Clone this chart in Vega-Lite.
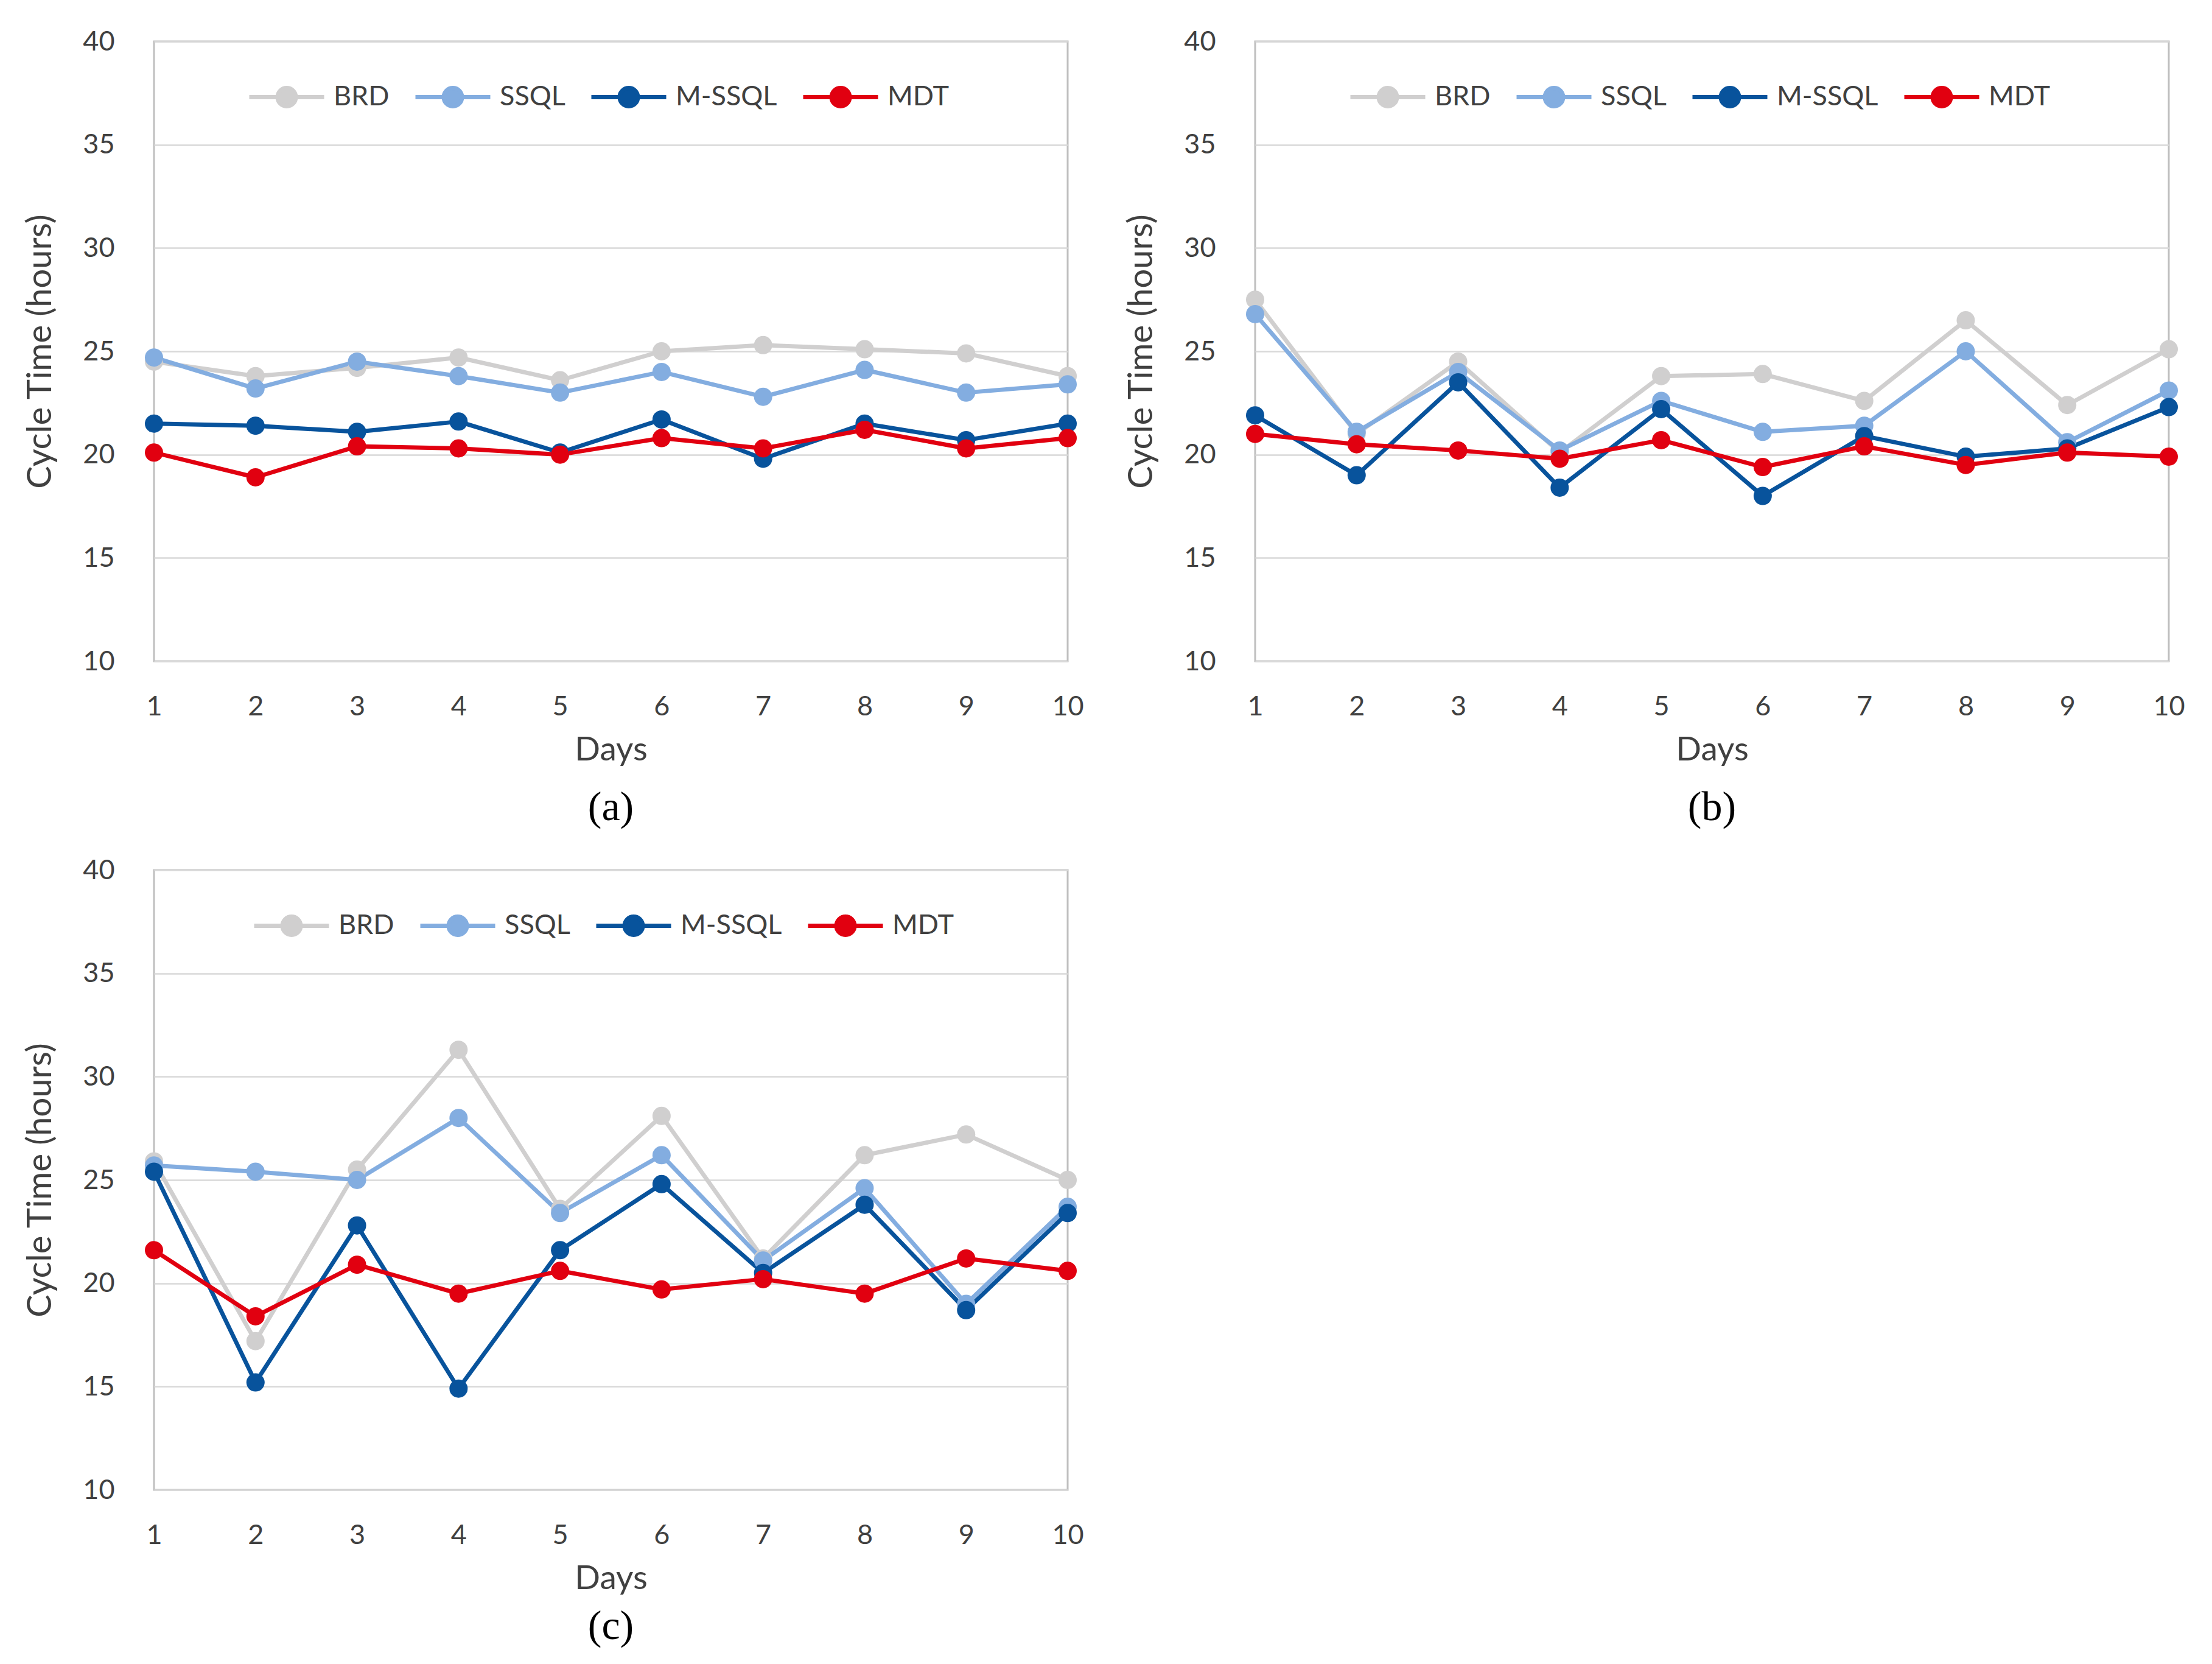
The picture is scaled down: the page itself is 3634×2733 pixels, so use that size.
{
  "$schema": "https://vega.github.io/schema/vega-lite/v6.json",
  "background": "white",
  "padding": {"left": 37, "top": 44, "right": 0, "bottom": 0},
  "datasets": {
    "cycle": [
      {"panel": "a", "method": "BRD", "day": 1, "hours": 24.5},
      {"panel": "a", "method": "BRD", "day": 2, "hours": 23.8},
      {"panel": "a", "method": "BRD", "day": 3, "hours": 24.2},
      {"panel": "a", "method": "BRD", "day": 4, "hours": 24.7},
      {"panel": "a", "method": "BRD", "day": 5, "hours": 23.6},
      {"panel": "a", "method": "BRD", "day": 6, "hours": 25.0},
      {"panel": "a", "method": "BRD", "day": 7, "hours": 25.3},
      {"panel": "a", "method": "BRD", "day": 8, "hours": 25.1},
      {"panel": "a", "method": "BRD", "day": 9, "hours": 24.9},
      {"panel": "a", "method": "BRD", "day": 10, "hours": 23.8},
      {"panel": "a", "method": "SSQL", "day": 1, "hours": 24.7},
      {"panel": "a", "method": "SSQL", "day": 2, "hours": 23.2},
      {"panel": "a", "method": "SSQL", "day": 3, "hours": 24.5},
      {"panel": "a", "method": "SSQL", "day": 4, "hours": 23.8},
      {"panel": "a", "method": "SSQL", "day": 5, "hours": 23.0},
      {"panel": "a", "method": "SSQL", "day": 6, "hours": 24.0},
      {"panel": "a", "method": "SSQL", "day": 7, "hours": 22.8},
      {"panel": "a", "method": "SSQL", "day": 8, "hours": 24.1},
      {"panel": "a", "method": "SSQL", "day": 9, "hours": 23.0},
      {"panel": "a", "method": "SSQL", "day": 10, "hours": 23.4},
      {"panel": "a", "method": "M-SSQL", "day": 1, "hours": 21.5},
      {"panel": "a", "method": "M-SSQL", "day": 2, "hours": 21.4},
      {"panel": "a", "method": "M-SSQL", "day": 3, "hours": 21.1},
      {"panel": "a", "method": "M-SSQL", "day": 4, "hours": 21.6},
      {"panel": "a", "method": "M-SSQL", "day": 5, "hours": 20.1},
      {"panel": "a", "method": "M-SSQL", "day": 6, "hours": 21.7},
      {"panel": "a", "method": "M-SSQL", "day": 7, "hours": 19.8},
      {"panel": "a", "method": "M-SSQL", "day": 8, "hours": 21.5},
      {"panel": "a", "method": "M-SSQL", "day": 9, "hours": 20.7},
      {"panel": "a", "method": "M-SSQL", "day": 10, "hours": 21.5},
      {"panel": "a", "method": "MDT", "day": 1, "hours": 20.1},
      {"panel": "a", "method": "MDT", "day": 2, "hours": 18.9},
      {"panel": "a", "method": "MDT", "day": 3, "hours": 20.4},
      {"panel": "a", "method": "MDT", "day": 4, "hours": 20.3},
      {"panel": "a", "method": "MDT", "day": 5, "hours": 20.0},
      {"panel": "a", "method": "MDT", "day": 6, "hours": 20.8},
      {"panel": "a", "method": "MDT", "day": 7, "hours": 20.3},
      {"panel": "a", "method": "MDT", "day": 8, "hours": 21.2},
      {"panel": "a", "method": "MDT", "day": 9, "hours": 20.3},
      {"panel": "a", "method": "MDT", "day": 10, "hours": 20.8},
      {"panel": "b", "method": "BRD", "day": 1, "hours": 27.5},
      {"panel": "b", "method": "BRD", "day": 2, "hours": 21.0},
      {"panel": "b", "method": "BRD", "day": 3, "hours": 24.5},
      {"panel": "b", "method": "BRD", "day": 4, "hours": 20.1},
      {"panel": "b", "method": "BRD", "day": 5, "hours": 23.8},
      {"panel": "b", "method": "BRD", "day": 6, "hours": 23.9},
      {"panel": "b", "method": "BRD", "day": 7, "hours": 22.6},
      {"panel": "b", "method": "BRD", "day": 8, "hours": 26.5},
      {"panel": "b", "method": "BRD", "day": 9, "hours": 22.4},
      {"panel": "b", "method": "BRD", "day": 10, "hours": 25.1},
      {"panel": "b", "method": "SSQL", "day": 1, "hours": 26.8},
      {"panel": "b", "method": "SSQL", "day": 2, "hours": 21.1},
      {"panel": "b", "method": "SSQL", "day": 3, "hours": 24.0},
      {"panel": "b", "method": "SSQL", "day": 4, "hours": 20.2},
      {"panel": "b", "method": "SSQL", "day": 5, "hours": 22.6},
      {"panel": "b", "method": "SSQL", "day": 6, "hours": 21.1},
      {"panel": "b", "method": "SSQL", "day": 7, "hours": 21.4},
      {"panel": "b", "method": "SSQL", "day": 8, "hours": 25.0},
      {"panel": "b", "method": "SSQL", "day": 9, "hours": 20.6},
      {"panel": "b", "method": "SSQL", "day": 10, "hours": 23.1},
      {"panel": "b", "method": "M-SSQL", "day": 1, "hours": 21.9},
      {"panel": "b", "method": "M-SSQL", "day": 2, "hours": 19.0},
      {"panel": "b", "method": "M-SSQL", "day": 3, "hours": 23.5},
      {"panel": "b", "method": "M-SSQL", "day": 4, "hours": 18.4},
      {"panel": "b", "method": "M-SSQL", "day": 5, "hours": 22.2},
      {"panel": "b", "method": "M-SSQL", "day": 6, "hours": 18.0},
      {"panel": "b", "method": "M-SSQL", "day": 7, "hours": 20.9},
      {"panel": "b", "method": "M-SSQL", "day": 8, "hours": 19.9},
      {"panel": "b", "method": "M-SSQL", "day": 9, "hours": 20.3},
      {"panel": "b", "method": "M-SSQL", "day": 10, "hours": 22.3},
      {"panel": "b", "method": "MDT", "day": 1, "hours": 21.0},
      {"panel": "b", "method": "MDT", "day": 2, "hours": 20.5},
      {"panel": "b", "method": "MDT", "day": 3, "hours": 20.2},
      {"panel": "b", "method": "MDT", "day": 4, "hours": 19.8},
      {"panel": "b", "method": "MDT", "day": 5, "hours": 20.7},
      {"panel": "b", "method": "MDT", "day": 6, "hours": 19.4},
      {"panel": "b", "method": "MDT", "day": 7, "hours": 20.4},
      {"panel": "b", "method": "MDT", "day": 8, "hours": 19.5},
      {"panel": "b", "method": "MDT", "day": 9, "hours": 20.1},
      {"panel": "b", "method": "MDT", "day": 10, "hours": 19.9},
      {"panel": "c", "method": "BRD", "day": 1, "hours": 25.9},
      {"panel": "c", "method": "BRD", "day": 2, "hours": 17.2},
      {"panel": "c", "method": "BRD", "day": 3, "hours": 25.5},
      {"panel": "c", "method": "BRD", "day": 4, "hours": 31.3},
      {"panel": "c", "method": "BRD", "day": 5, "hours": 23.6},
      {"panel": "c", "method": "BRD", "day": 6, "hours": 28.1},
      {"panel": "c", "method": "BRD", "day": 7, "hours": 21.2},
      {"panel": "c", "method": "BRD", "day": 8, "hours": 26.2},
      {"panel": "c", "method": "BRD", "day": 9, "hours": 27.2},
      {"panel": "c", "method": "BRD", "day": 10, "hours": 25.0},
      {"panel": "c", "method": "SSQL", "day": 1, "hours": 25.7},
      {"panel": "c", "method": "SSQL", "day": 2, "hours": 25.4},
      {"panel": "c", "method": "SSQL", "day": 3, "hours": 25.0},
      {"panel": "c", "method": "SSQL", "day": 4, "hours": 28.0},
      {"panel": "c", "method": "SSQL", "day": 5, "hours": 23.4},
      {"panel": "c", "method": "SSQL", "day": 6, "hours": 26.2},
      {"panel": "c", "method": "SSQL", "day": 7, "hours": 21.1},
      {"panel": "c", "method": "SSQL", "day": 8, "hours": 24.6},
      {"panel": "c", "method": "SSQL", "day": 9, "hours": 19.0},
      {"panel": "c", "method": "SSQL", "day": 10, "hours": 23.7},
      {"panel": "c", "method": "M-SSQL", "day": 1, "hours": 25.4},
      {"panel": "c", "method": "M-SSQL", "day": 2, "hours": 15.2},
      {"panel": "c", "method": "M-SSQL", "day": 3, "hours": 22.8},
      {"panel": "c", "method": "M-SSQL", "day": 4, "hours": 14.9},
      {"panel": "c", "method": "M-SSQL", "day": 5, "hours": 21.6},
      {"panel": "c", "method": "M-SSQL", "day": 6, "hours": 24.8},
      {"panel": "c", "method": "M-SSQL", "day": 7, "hours": 20.5},
      {"panel": "c", "method": "M-SSQL", "day": 8, "hours": 23.8},
      {"panel": "c", "method": "M-SSQL", "day": 9, "hours": 18.7},
      {"panel": "c", "method": "M-SSQL", "day": 10, "hours": 23.4},
      {"panel": "c", "method": "MDT", "day": 1, "hours": 21.6},
      {"panel": "c", "method": "MDT", "day": 2, "hours": 18.4},
      {"panel": "c", "method": "MDT", "day": 3, "hours": 20.9},
      {"panel": "c", "method": "MDT", "day": 4, "hours": 19.5},
      {"panel": "c", "method": "MDT", "day": 5, "hours": 20.6},
      {"panel": "c", "method": "MDT", "day": 6, "hours": 19.7},
      {"panel": "c", "method": "MDT", "day": 7, "hours": 20.2},
      {"panel": "c", "method": "MDT", "day": 8, "hours": 19.5},
      {"panel": "c", "method": "MDT", "day": 9, "hours": 21.2},
      {"panel": "c", "method": "MDT", "day": 10, "hours": 20.6}
    ]
  },
  "columns": 2,
  "spacing": {"row": 42, "column": 64},
  "resolve": {"legend": {"color": "independent"}},
  "concat": [
    {
      "width": 1501,
      "height": 1018,
      "data": {"name": "cycle"},
      "transform": [{"filter": "datum.panel == 'a'"}],
      "title": {"text": "(a)"},
      "encoding": {
        "x": {"field": "day", "type": "quantitative", "title": "Days",
              "scale": {"domain": [1, 10], "nice": false, "zero": false},
              "axis": {"values": [1, 2, 3, 4, 5, 6, 7, 8, 9, 10], "format": "d"}},
        "y": {"field": "hours", "type": "quantitative", "title": "Cycle Time (hours)",
              "scale": {"domain": [10, 40], "nice": false, "zero": false},
              "axis": {"values": [10, 15, 20, 25, 30, 35, 40]}},
        "color": {"field": "method", "type": "nominal",
                  "scale": {"domain": ["BRD", "SSQL", "M-SSQL", "MDT"], "range": ["#D0CFCF", "#83ADE0", "#08539C", "#E10010"]},
                  "legend": {"legendX": 153, "legendY": 26,
                             "encode": {"symbols": {"update": {"fill": {"scale": "color", "field": "value"}, "stroke": {"scale": "color", "field": "value"}}}}}}
      },
      "layer": [
        {"mark": {"type": "line", "strokeWidth": 7, "strokeJoin": "round"}},
        {"mark": {"type": "point", "filled": true, "size": 900, "opacity": 1}}
      ]
    },
    {
      "width": 1501,
      "height": 1018,
      "data": {"name": "cycle"},
      "transform": [{"filter": "datum.panel == 'b'"}],
      "title": {"text": "(b)"},
      "encoding": {
        "x": {"field": "day", "type": "quantitative", "title": "Days",
              "scale": {"domain": [1, 10], "nice": false, "zero": false},
              "axis": {"values": [1, 2, 3, 4, 5, 6, 7, 8, 9, 10], "format": "d"}},
        "y": {"field": "hours", "type": "quantitative", "title": "Cycle Time (hours)",
              "scale": {"domain": [10, 40], "nice": false, "zero": false},
              "axis": {"values": [10, 15, 20, 25, 30, 35, 40]}},
        "color": {"field": "method", "type": "nominal",
                  "scale": {"domain": ["BRD", "SSQL", "M-SSQL", "MDT"], "range": ["#D0CFCF", "#83ADE0", "#08539C", "#E10010"]},
                  "legend": {"legendX": 153, "legendY": 26,
                             "encode": {"symbols": {"update": {"fill": {"scale": "color", "field": "value"}, "stroke": {"scale": "color", "field": "value"}}}}}}
      },
      "layer": [
        {"mark": {"type": "line", "strokeWidth": 7, "strokeJoin": "round"}},
        {"mark": {"type": "point", "filled": true, "size": 900, "opacity": 1}}
      ]
    },
    {
      "width": 1501,
      "height": 1018,
      "data": {"name": "cycle"},
      "transform": [{"filter": "datum.panel == 'c'"}],
      "title": {"text": "(c)", "offset": 18},
      "encoding": {
        "x": {"field": "day", "type": "quantitative", "title": "Days",
              "scale": {"domain": [1, 10], "nice": false, "zero": false},
              "axis": {"values": [1, 2, 3, 4, 5, 6, 7, 8, 9, 10], "format": "d"}},
        "y": {"field": "hours", "type": "quantitative", "title": "Cycle Time (hours)",
              "scale": {"domain": [10, 40], "nice": false, "zero": false},
              "axis": {"values": [10, 15, 20, 25, 30, 35, 40]}},
        "color": {"field": "method", "type": "nominal",
                  "scale": {"domain": ["BRD", "SSQL", "M-SSQL", "MDT"], "range": ["#D0CFCF", "#83ADE0", "#08539C", "#E10010"]},
                  "legend": {"legendX": 161, "legendY": 26,
                             "encode": {"symbols": {"update": {"fill": {"scale": "color", "field": "value"}, "stroke": {"scale": "color", "field": "value"}}}}}}
      },
      "layer": [
        {"mark": {"type": "line", "strokeWidth": 7, "strokeJoin": "round"}},
        {"mark": {"type": "point", "filled": true, "size": 900, "opacity": 1}}
      ]
    }
  ],
  "config": {
    "view": {"stroke": "#BFBFBF", "strokeWidth": 3},
    "axis": {
      "domain": false,
      "ticks": false,
      "grid": true,
      "gridColor": "#D9D9D9",
      "gridWidth": 2.5,
      "labelFont": "Lato",
      "labelFontSize": 45,
      "labelColor": "#404040",
      "labelFlush": false,
      "titleColor": "#404040",
      "titleFontWeight": "normal"
    },
    "axisX": {
      "grid": false,
      "labelPadding": 52,
      "titleFont": "Lato",
      "titleFontSize": 55,
      "titlePadding": 22
    },
    "axisY": {
      "labelPadding": 65,
      "titleFont": "Lato",
      "titleFontSize": 56,
      "titlePadding": 40
    },
    "legend": {
      "orient": "none",
      "direction": "horizontal",
      "title": null,
      "padding": 0,
      "symbolType": "M-1,0H1M-0.244,0A0.244,0.244,0,1,1,0.244,0A0.244,0.244,0,1,1,-0.244,0Z",
      "symbolSize": 15129,
      "symbolStrokeWidth": 7,
      "labelFont": "Lato",
      "labelFontSize": 45,
      "labelColor": "#404040",
      "labelLimit": 400,
      "labelOffset": 12,
      "columnPadding": 28
    },
    "title": {
      "orient": "bottom",
      "anchor": "middle",
      "font": "Liberation Serif",
      "fontSize": 68,
      "fontWeight": "normal",
      "color": "#000000",
      "offset": 34
    }
  }
}
